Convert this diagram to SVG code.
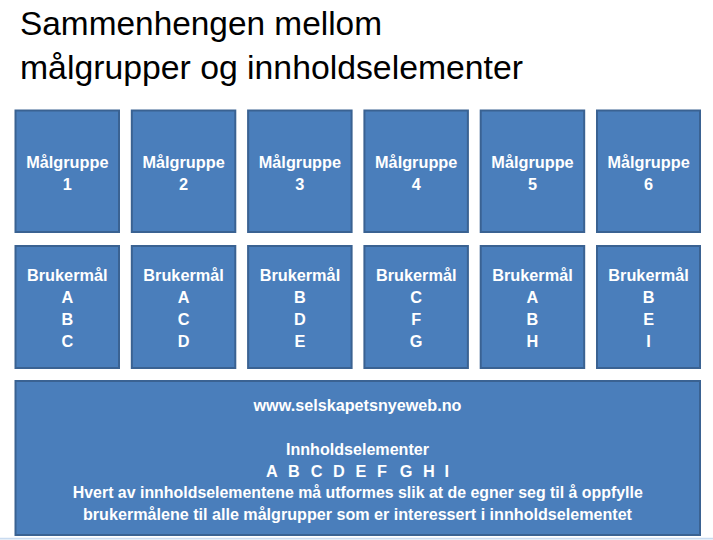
<svg xmlns="http://www.w3.org/2000/svg" width="713" height="540" viewBox="0 0 713 540">
<style>
.bx{fill:#4a7ebb;stroke:#3a6292;stroke-width:2}
.t{font-family:"Liberation Sans",Arial,sans-serif;font-weight:bold;font-size:16.3px;fill:#ffffff;text-anchor:middle}
.ti{font-family:"Liberation Sans",Arial,sans-serif;font-size:34px;fill:#000000}
</style>
<rect width="713" height="540" fill="#ffffff"/>
<line x1="0" y1="538.6" x2="713" y2="538.6" stroke="#c9dbf0" stroke-width="1.6"/>
<g id="title">
<text class="ti" x="20" y="34.5" textLength="362" lengthAdjust="spacingAndGlyphs">Sammenhengen mellom</text>
<text class="ti" x="20" y="79" textLength="503" lengthAdjust="spacingAndGlyphs">målgrupper og innholdselementer</text>
</g>
<g id="connectors"></g>
<g id="malgruppe1"><rect class="bx" x="15.5" y="110.5" width="103.5" height="121.5"/><text class="t" x="67.3" y="168">Målgruppe</text><text class="t" x="67.3" y="189.5">1</text></g>
<g id="malgruppe2"><rect class="bx" x="131.8" y="110.5" width="103.5" height="121.5"/><text class="t" x="183.6" y="168">Målgruppe</text><text class="t" x="183.6" y="189.5">2</text></g>
<g id="malgruppe3"><rect class="bx" x="248.1" y="110.5" width="103.5" height="121.5"/><text class="t" x="299.9" y="168">Målgruppe</text><text class="t" x="299.9" y="189.5">3</text></g>
<g id="malgruppe4"><rect class="bx" x="364.4" y="110.5" width="103.5" height="121.5"/><text class="t" x="416.2" y="168">Målgruppe</text><text class="t" x="416.2" y="189.5">4</text></g>
<g id="malgruppe5"><rect class="bx" x="480.7" y="110.5" width="103.5" height="121.5"/><text class="t" x="532.5" y="168">Målgruppe</text><text class="t" x="532.5" y="189.5">5</text></g>
<g id="malgruppe6"><rect class="bx" x="597" y="110.5" width="103" height="121.5"/><text class="t" x="648.6" y="168">Målgruppe</text><text class="t" x="648.6" y="189.5">6</text></g>
<g id="brukermal1"><rect class="bx" x="15.5" y="246" width="103.5" height="122"/><text class="t" x="67.3" y="281">Brukermål</text><text class="t" x="67.3" y="303">A</text><text class="t" x="67.3" y="325">B</text><text class="t" x="67.3" y="347">C</text></g>
<g id="brukermal2"><rect class="bx" x="131.8" y="246" width="103.5" height="122"/><text class="t" x="183.6" y="281">Brukermål</text><text class="t" x="183.6" y="303">A</text><text class="t" x="183.6" y="325">C</text><text class="t" x="183.6" y="347">D</text></g>
<g id="brukermal3"><rect class="bx" x="248.1" y="246" width="103.5" height="122"/><text class="t" x="299.9" y="281">Brukermål</text><text class="t" x="299.9" y="303">B</text><text class="t" x="299.9" y="325">D</text><text class="t" x="299.9" y="347">E</text></g>
<g id="brukermal4"><rect class="bx" x="364.4" y="246" width="103.5" height="122"/><text class="t" x="416.2" y="281">Brukermål</text><text class="t" x="416.2" y="303">C</text><text class="t" x="416.2" y="325">F</text><text class="t" x="416.2" y="347">G</text></g>
<g id="brukermal5"><rect class="bx" x="480.7" y="246" width="103.5" height="122"/><text class="t" x="532.5" y="281">Brukermål</text><text class="t" x="532.5" y="303">A</text><text class="t" x="532.5" y="325">B</text><text class="t" x="532.5" y="347">H</text></g>
<g id="brukermal6"><rect class="bx" x="597" y="246" width="103" height="122"/><text class="t" x="648.6" y="281">Brukermål</text><text class="t" x="648.6" y="303">B</text><text class="t" x="648.6" y="325">E</text><text class="t" x="648.6" y="347">I</text></g>
<g id="nettsted">
<rect class="bx" x="15.5" y="381" width="684.5" height="154"/>
<text class="t" x="357.5" y="411" textLength="208" lengthAdjust="spacingAndGlyphs">www.selskapetsnyeweb.no</text>
<text class="t" x="357.5" y="455" textLength="143" lengthAdjust="spacingAndGlyphs">Innholdselementer</text>
<text class="t" y="476.7"><tspan x="272">A</tspan><tspan x="294">B</tspan><tspan x="316.7">C</tspan><tspan x="339">D</tspan><tspan x="361">E</tspan><tspan x="382">F</tspan><tspan x="406">G</tspan><tspan x="429">H</tspan><tspan x="446.7">I</tspan></text>
<text class="t" x="357.8" y="498.4" textLength="570" lengthAdjust="spacingAndGlyphs">Hvert av innholdselementene må utformes slik at de egner seg til å oppfylle</text>
<text class="t" x="357.5" y="520" textLength="549" lengthAdjust="spacingAndGlyphs">brukermålene til alle målgrupper som er interessert i innholdselementet</text>
</g>
</svg>
